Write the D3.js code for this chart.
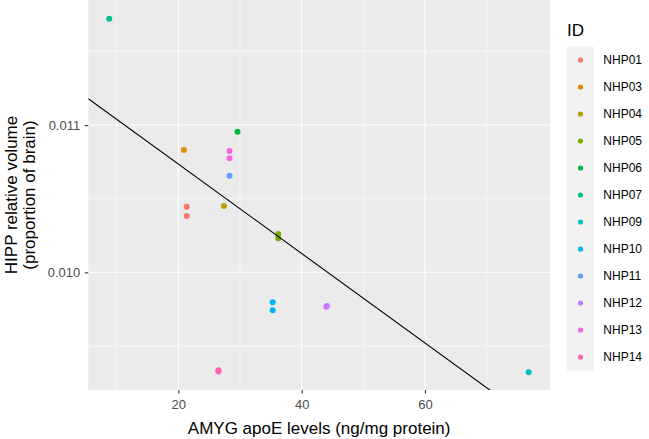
<!DOCTYPE html>
<html>
<head>
    <script src="https://d3js.org/d3.v7.min.js"></script>
    <style>
        body { margin: 0; background: #fff; }
        svg { font-family: "Liberation Sans", Arial, sans-serif; }
        .tick-lab { fill: #4d4d4d; font-size: 13px; }
        .ax-title { fill: #000; font-size: 17px; }
    </style>
</head>
<body>
<script>
    // data
    var ids = ["NHP01","NHP03","NHP04","NHP05","NHP06","NHP07","NHP09","NHP10","NHP11","NHP12","NHP13","NHP14"];
    var colors = ["#F8766D","#DE8C00","#B79F00","#7CAE00","#00BA38","#00C08B","#00BFC4","#00B4F0","#619CFF","#C77CFF","#F564E3","#FF64B0"];
    var pointId   = ["NHP01","NHP01","NHP03","NHP04","NHP05","NHP05","NHP06","NHP07","NHP09","NHP10","NHP10","NHP11","NHP12","NHP12","NHP13","NHP13","NHP14","NHP14"];
    var apoe      = [21.35, 21.35, 20.9, 27.4, 36.2, 36.2, 29.6, 8.8, 76.8, 35.3, 35.3, 28.3, 44.1, 44.0, 28.3, 28.3, 26.5, 26.5];
    var hipp      = [0.010445, 0.010382, 0.010830, 0.010450, 0.010260, 0.010231, 0.010955, 0.011722, 0.009321,
                     0.009796, 0.009742, 0.010656, 0.009772, 0.009766, 0.010823, 0.010774, 0.009335, 0.009327];
    var xMajor = [20, 40, 60], xMinor = [10, 30, 50, 70];
    var yMajor = [0.010, 0.011], yMinor = [0.0095, 0.0105, 0.0115];
    var fitIntercept = 0.011343, fitSlope = -3.038e-5;

    var W = 649, H = 439;
    var panel = {left: 88.3, right: 550, top: 0, bottom: 390};

    var x = d3.scaleLinear().domain([5.4, 80.27]).range([panel.left, panel.right]);
    var y = d3.scaleLinear().domain([0.009201, 0.011849]).range([panel.bottom, panel.top]);
    var color = d3.scaleOrdinal().domain(ids).range(colors);

    var svg = d3.select("body").append("svg").attr("width", W).attr("height", H);

    svg.append("defs").append("clipPath").attr("id", "clip")
        .append("rect").attr("x", panel.left).attr("y", panel.top)
        .attr("width", panel.right - panel.left).attr("height", panel.bottom - panel.top);

    // panel background
    svg.append("rect").attr("x", panel.left).attr("y", panel.top)
        .attr("width", panel.right - panel.left).attr("height", panel.bottom - panel.top)
        .attr("fill", "#ebebeb");

    // grid
    var grid = svg.append("g").attr("stroke", "#fff");
    grid.selectAll(".xmin").data(xMinor).enter().append("line")
        .attr("x1", d => x(d)).attr("x2", d => x(d)).attr("y1", panel.top).attr("y2", panel.bottom)
        .attr("stroke-width", 0.55);
    grid.selectAll(".ymin").data(yMinor).enter().append("line")
        .attr("y1", d => y(d)).attr("y2", d => y(d)).attr("x1", panel.left).attr("x2", panel.right)
        .attr("stroke-width", 0.55);
    grid.selectAll(".xmaj").data(xMajor).enter().append("line")
        .attr("x1", d => x(d)).attr("x2", d => x(d)).attr("y1", panel.top).attr("y2", panel.bottom)
        .attr("stroke-width", 1.1);
    grid.selectAll(".ymaj").data(yMajor).enter().append("line")
        .attr("y1", d => y(d)).attr("y2", d => y(d)).attr("x1", panel.left).attr("x2", panel.right)
        .attr("stroke-width", 1.1);

    // points
    svg.append("g").selectAll("circle").data(apoe).enter().append("circle")
        .attr("cx", d => x(d))
        .attr("cy", (d, i) => y(hipp[i]))
        .attr("r", 3)
        .attr("fill", (d, i) => color(pointId[i]));

    // regression line
    var xd = x.domain();
    svg.append("line").attr("clip-path", "url(#clip)")
        .attr("x1", x(xd[0])).attr("y1", y(fitIntercept + fitSlope * xd[0]))
        .attr("x2", x(xd[1])).attr("y2", y(fitIntercept + fitSlope * xd[1]))
        .attr("stroke", "#000").attr("stroke-width", 1.1);

    // axes
    var xAxis = svg.append("g").attr("transform", "translate(0," + panel.bottom + ")")
        .call(d3.axisBottom(x).tickValues(xMajor).tickSize(3.6).tickPadding(3.5).tickFormat(d3.format("d")));
    var yAxis = svg.append("g").attr("transform", "translate(" + panel.left + ",0)")
        .call(d3.axisLeft(y).tickValues(yMajor).tickSize(3.6).tickPadding(4.5).tickFormat(d3.format(".3f")));
    [xAxis, yAxis].forEach(function(a) {
        a.select(".domain").remove();
        a.selectAll(".tick line").attr("stroke", "#333").attr("stroke-width", 1.1);
        a.selectAll(".tick text").attr("class", "tick-lab").attr("font-size", null).attr("font-family", null);
    });
    xAxis.selectAll(".tick text").attr("dy", "0.92em");

    // axis titles
    svg.append("text").attr("class", "ax-title")
        .attr("x", (panel.left + panel.right) / 2).attr("y", 434)
        .attr("text-anchor", "middle").text("AMYG apoE levels (ng/mg protein)");
    var yt = svg.append("text").attr("class", "ax-title")
        .attr("transform", "translate(17," + ((panel.top + panel.bottom) / 2) + ") rotate(-90)")
        .attr("text-anchor", "middle");
    yt.append("tspan").attr("x", 0).attr("y", 0).text("HIPP relative volume");
    yt.append("tspan").attr("x", 0).attr("y", 18).text("(proportion of brain)");

    // legend
    var lg = svg.append("g");
    lg.append("text").attr("x", 567).attr("y", 36).attr("font-size", 17).text("ID");
    var keyH = 27, keyTop = 46.5;
    lg.append("rect").attr("x", 566.7).attr("y", keyTop)
        .attr("width", 27.3).attr("height", keyH * ids.length).attr("fill", "#f2f2f2");
    var items = lg.selectAll(".item").data(ids).enter().append("g")
        .attr("transform", (d, i) => "translate(0," + (keyTop + keyH * i + keyH / 2) + ")");
    items.append("circle").attr("cx", 580.5).attr("cy", 0).attr("r", 2.6).attr("fill", d => color(d));
    items.append("text").attr("x", 603.3).attr("y", 0).attr("dy", "0.35em")
        .attr("font-size", 12).attr("fill", "#000").text(d => d);
</script>
</body>
</html>
